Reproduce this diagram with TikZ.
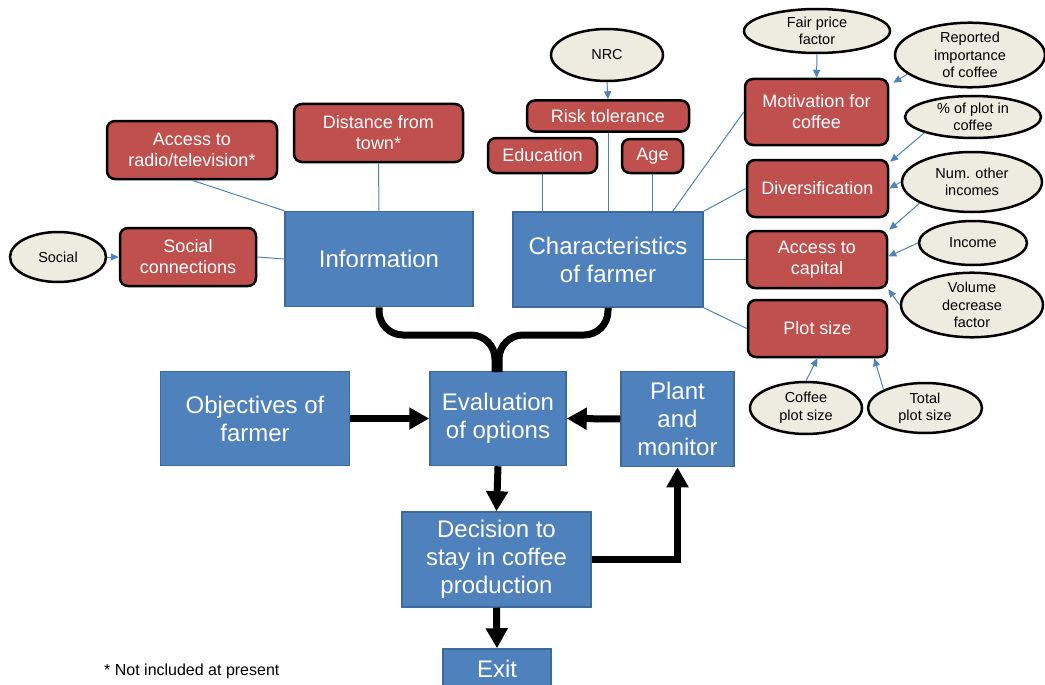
\documentclass[tikz,border=0pt]{standalone}
\usepackage{fontspec}
\setmainfont{Liberation Sans}
\usetikzlibrary{shapes.geometric}
\usetikzlibrary{arrows.meta}
\definecolor{boxblue}{HTML}{4F81BD}
\definecolor{edgeblue}{HTML}{3C6A9E}
\definecolor{factorred}{HTML}{C0504D}
\definecolor{drivergrey}{HTML}{EEECE1}
\definecolor{linkblue}{HTML}{4F81BD}

\begin{document}
\begin{tikzpicture}[x=1pt, y=-1pt,
    stage/.style={draw=edgeblue, line width=1.5pt, fill=boxblue, text=white, align=center, inner sep=0pt, font=\fontsize{24}{28}\selectfont},
    factor/.style={draw=black, line width=2.5pt, fill=factorred, rounded corners=8pt, text=white, align=center, inner sep=0pt, font=\fontsize{18}{21}\selectfont},
    driver/.style={ellipse, draw=black, line width=2.5pt, fill=drivergrey, align=center, inner sep=0pt, font=\fontsize{14.5}{17.5}\selectfont},
    link/.style={draw=linkblue, line width=1pt},
    feed/.style={link, -{Triangle[length=8pt,width=7pt]}},
    flow/.style={line width=7pt, -{Triangle[length=20pt,width=21pt]}},
    merge/.style={line width=7pt, rounded corners=24pt}]
                \useasboundingbox (0,0) rectangle (1045,685);

                % Main decision chain
                \node[stage, minimum width=188, minimum height=95] (info) at (379,259) {Information};
                \node[stage, minimum width=190, minimum height=95] (char) at (608,259.5) {Characteristics\\of farmer};
                \node[stage, minimum width=189, minimum height=94] (obj) at (255,418.5) {Objectives of\\farmer};
                \node[stage, minimum width=136, minimum height=94] (eval) at (498,418.5) {Evaluation\\of options};
                \node[stage, minimum width=113, minimum height=95] (plant) at (677.5,419) {Plant\\and\\monitor};
                \node[stage, minimum width=189, minimum height=95] (decide) at (496.5,559.5) {Decision to\\stay in coffee\\production};
                \node[stage, minimum width=108, minimum height=40] (exit) at (497,669) {Exit};

                % Information factors
                \node[factor, minimum width=170, minimum height=58] (radio) at (192,150) {Access to\\radio/television*};
                \node[factor, minimum width=169, minimum height=58] (town) at (378.5,133) {Distance from\\town*};
                \node[factor, minimum width=136, minimum height=58] (socconn) at (188,257) {Social\\connections};
                \node[driver, minimum width=96, minimum height=50] (social) at (58,257) {Social};

                % Farmer factors
                \node[factor, minimum width=162, minimum height=31] (risk) at (608,116) {Risk tolerance};
                \node[factor, minimum width=109, minimum height=35] (educ) at (542.5,155.5) {Education};
                \node[factor, minimum width=61, minimum height=34] (age) at (652.5,156) {Age};
                \node[factor, minimum width=143, minimum height=66] (motiv) at (816.5,112) {Motivation for\\coffee};
                \node[factor, minimum width=141, minimum height=57] (divers) at (817.5,188.5) {Diversification};
                \node[factor, minimum width=140, minimum height=57] (capital) at (817,259.5) {Access to\\capital};
                \node[factor, minimum width=139, minimum height=57] (plotsize) at (817.5,328.5) {Plot size};

                % Survey drivers
                \node[driver, minimum width=112, minimum height=52] (nrc) at (607,55) {NRC};
                \node[driver, minimum width=146, minimum height=44] (fair) at (817,31) {Fair price\\factor};
                \node[driver, minimum width=150, minimum height=60] (reported) at (970,55) {Reported\\importance\\of coffee};
                \node[driver, minimum width=136, minimum height=42] (pctplot) at (973,117) {\% of plot in\\coffee};
                \node[driver, minimum width=140, minimum height=60] (numinc) at (972,182) {Num. other\\incomes};
                \node[driver, minimum width=108, minimum height=44] (income) at (973,243) {Income};
                \node[driver, minimum width=142, minimum height=56] (volume) at (972,305) {Volume\\decrease\\factor};
                \node[driver, minimum width=112, minimum height=52] (coffeeplot) at (806,408) {Coffee\\plot size};
                \node[driver, minimum width=114, minimum height=50] (totalplot) at (925,408) {Total\\plot size};

                % Footnote
                \node[anchor=west, inner sep=0pt, font=\fontsize{16}{19}\selectfont] (note) at (104,671) {* Not included at present};

                % Thin links into the two upper boxes
                \draw[link] (radio.south) -- (info.north west);
                \draw[link] (town.south) -- (info.north);
                \draw[link] (socconn.east) -- (info.west);
                \draw[link] (educ.south) -- (educ.south |- char.north);
                \draw[link] (risk.south) -- (risk.south |- char.north);
                \draw[link] (age.south) -- (age.south |- char.north);
                \draw[link] (motiv.west) -- ([xshift=-31pt]char.north east);
                \draw[link] (divers.west) -- (char.north east);
                \draw[link] (capital.west) -- (char.east);
                \draw[link] (plotsize.west) -- (char.south east);

                % Driver arrows
                \draw[feed] (social.east) -- (socconn.west);
                \draw[feed] (nrc.south) -- (risk.north);
                \draw[feed] (fair.south) -- (motiv.north);
                \draw[feed] (reported.197) -- ([xshift=4pt,yshift=-5pt]motiv.north east);
                \draw[feed] (pctplot.198) -- ([xshift=1pt,yshift=-3pt]divers.north east);
                \draw[feed] (numinc.west) -- (divers.east);
                \draw[feed] (numinc.202) -- ([xshift=1pt]capital.north east);
                \draw[feed] (income.west) -- ([yshift=3pt]capital.east);
                \draw[feed] (volume.west) -- (capital.south east);
                \draw[feed] (coffeeplot.north) -- (plotsize.south);
                \draw[feed] (totalplot.156) -- ([xshift=-14pt]plotsize.south east);

                % Both upper boxes feed the evaluation
                \draw[merge] (info.south) -- (379,335) -- (495,335) -- (495,372);
                \draw[merge] (char.south) -- (608,335) -- (499,335) -- (499,372);

                % Thick flow arrows
                \draw[flow] (obj.east) -- (eval.west);
                \draw[flow] (plant.west) -- (eval.east);
                \draw[flow] (eval.south) -- (decide.north);
                \draw[flow] (decide.east) -| (plant.south);
                \draw[flow] (decide.south) -- (exit.north);
            \end{tikzpicture}
\end{document}
